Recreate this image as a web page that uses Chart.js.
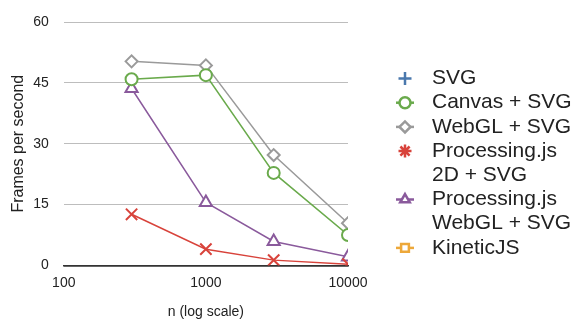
<!DOCTYPE html>
<html>
<head>
<meta charset="utf-8">
<script src="https://cdn.jsdelivr.net/npm/chart.js@4"></script>
<style>
  html, body { margin: 0; padding: 0; background: #fff; }
  #wrap { width: 576px; height: 322px; }
</style>
</head>
<body>
<div id="wrap"><canvas id="fpsChart"></canvas></div>
<script>
// datos
const nValues = [300, 1000, 3000, 10000];
const xTickLabels = [100, 1000, 10000];
const yTickLabels = [0, 15, 30, 45, 60];

const seriesNames = [
    ['SVG'],
    ['Canvas + SVG'],
    ['WebGL + SVG'],
    ['Processing.js', '2D + SVG'],
    ['Processing.js', 'WebGL + SVG'],
    ['KineticJS']
];
const svgFps = [];
const canvasFps = [45.9, 46.9, 22.8, 7.5];
const webglFps = [50.3, 49.3, 27.2, 10.4];
const processing2dFps = [12.6, 4.0, 1.3, 0.3];
const processingWebglFps = [43.6, 15.5, 5.9, 2.1];
const kineticFps = [];

const seriesValues = [svgFps, canvasFps, webglFps, processing2dFps, processingWebglFps, kineticFps];
const seriesColors = ['#4a78ad', '#6aaa4c', '#9a9a9a', '#d8433b', '#8a5a9c', '#eda83a'];
const chartStyles = ['cross', 'circle', 'rectRot', 'crossRot', 'triangle', 'rect'];
const markerSizes = [6, 6, 6, 8, 7, 6];
const legendStyles = ['cross', 'circle', 'rectRot', 'star', 'triangle', 'rect'];

const FONT = '"Liberation Sans", Arial, sans-serif';

// Leyenda dibujada a mano (etiquetas de varias líneas)
const sideLegend = {
    id: 'sideLegend',
    afterDraw(chart) {
        const ctx = chart.ctx;
        const markX = 405;
        const textX = 432;
        const lineH = 24.2;
        let y = 78.5;
        ctx.save();
        ctx.font = '21px ' + FONT;
        ctx.textBaseline = 'middle';
        ctx.textAlign = 'left';
        seriesNames.forEach((lines, i) => {
            const color = seriesColors[i];
            const solid = legendStyles[i] === 'cross' || legendStyles[i] === 'star';
            ctx.strokeStyle = color;
            ctx.lineWidth = 2.5;
            if (!solid) {
                ctx.beginPath();
                ctx.moveTo(markX - 9, y);
                ctx.lineTo(markX + 9, y);
                ctx.stroke();
            }
            ctx.fillStyle = solid ? color : '#fff';
            Chart.helpers.drawPoint(ctx, {
                pointStyle: legendStyles[i],
                radius: solid ? 6.5 : 5.5,
                borderWidth: solid ? 3 : 2.5,
                rotation: 0
            }, markX, y);
            ctx.fillStyle = '#222';
            lines.forEach((t, k) => {
                ctx.fillText(t, textX, y + k * lineH);
            });
            y += lines.length * lineH;
        });
        ctx.restore();
    }
};

function buildDatasets() {
    return seriesNames.map((name, i) => ({
        label: name.join(' '),
        data: seriesValues[i].map((v, k) => ({ x: nValues[k], y: v })),
        borderColor: seriesColors[i],
        backgroundColor: '#fff',
        borderWidth: 1.5,
        pointStyle: chartStyles[i],
        pointRadius: markerSizes[i],
        pointBorderWidth: 2,
        pointBackgroundColor: '#fff',
        pointBorderColor: seriesColors[i],
        tension: 0
    }));
}

function createFpsChart() {
    const ctx = document.getElementById('fpsChart').getContext('2d');
    new Chart(ctx, {
        type: 'line',
        data: { datasets: buildDatasets() },
        options: {
            responsive: true,
            maintainAspectRatio: false,
            animation: false,
            layout: { padding: { left: 9, right: 228, top: 5, bottom: 1 } },
            plugins: {
                legend: { display: false },
                tooltip: { enabled: false }
            },
            scales: {
                x: {
                    type: 'logarithmic',
                    min: 100,
                    max: 10000,
                    grid: { display: false, drawTicks: false },
                    border: { display: true, color: '#333', width: 1.5 },
                    afterBuildTicks(axis) {
                        axis.ticks = xTickLabels.map(v => ({ value: v }));
                    },
                    ticks: {
                        autoSkip: false,
                        maxRotation: 0,
                        padding: 9,
                        color: '#222',
                        font: { family: FONT, size: 14 },
                        callback: v => String(v)
                    },
                    title: {
                        display: true,
                        text: 'n (log scale)',
                        color: '#222',
                        padding: { top: 4, bottom: 0 },
                        font: { family: FONT, size: 14 }
                    }
                },
                y: {
                    min: 0,
                    max: 60,
                    afterBuildTicks(axis) {
                        axis.ticks = yTickLabels.map(v => ({ value: v }));
                    },
                    grid: {
                        color: ctx => ctx.tick && ctx.tick.value === 0 ? '#333' : '#bdbdbd',
                        lineWidth: ctx => ctx.tick && ctx.tick.value === 0 ? 1.5 : 1,
                        drawTicks: false
                    },
                    border: { display: false },
                    ticks: {
                        padding: 15,
                        color: '#222',
                        font: { family: FONT, size: 14, lineHeight: 1 }
                    },
                    title: {
                        display: true,
                        text: 'Frames per second',
                        color: '#222',
                        padding: { top: 0, bottom: -10 },
                        font: { family: FONT, size: 16 }
                    }
                }
            }
        },
        plugins: [sideLegend]
    });
}

document.addEventListener('DOMContentLoaded', createFpsChart);
</script>
</body>
</html>
